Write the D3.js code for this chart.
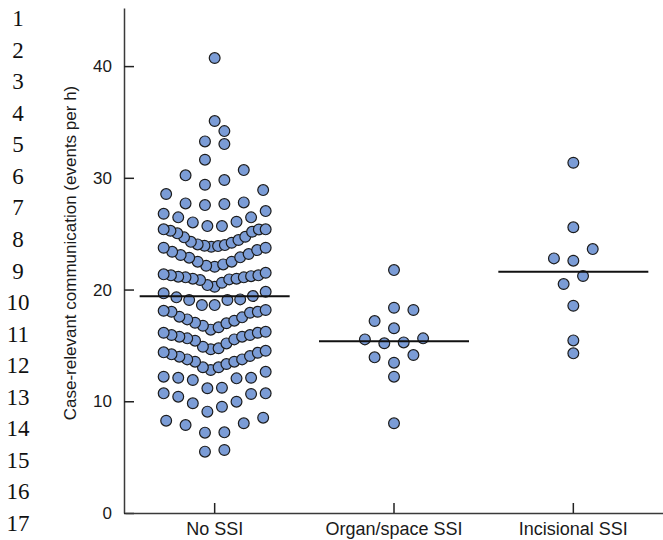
<!DOCTYPE html>
<meta charset="utf-8">
<style>
  body { margin: 0; background: #fff; }
</style>
<body>
<script src="https://d3js.org/d3.v7.min.js"></script>
<script>

var categories = ["No SSI", "Organ/space SSI", "Incisional SSI"];

// case-relevant communication, events per hour
var noSSI = [
  40.72, 35.08, 34.18, 33.26, 33.02, 31.62, 30.69, 30.22, 29.80, 29.38, 28.90, 28.55,
  27.80, 27.71, 27.65, 27.56,
  27.02, 26.78, 26.46, 26.46, 26.07, 26.01, 25.68, 25.68, 25.39, 25.39,
  25.38, 25.26, 25.17, 25.03, 24.72, 24.67, 24.43, 24.27, 24.19, 24.04, 23.98, 23.92, 23.89, 23.83,
  23.74, 23.74, 23.53, 23.38, 23.18, 23.09, 22.88, 22.85, 22.49, 22.49, 22.25, 22.13, 22.04,
  21.50, 21.36, 21.27, 21.27, 21.20, 21.15, 21.09, 21.09, 20.97, 20.97, 20.91, 20.85, 20.61, 20.40, 20.25,
  19.80, 19.66, 19.42, 19.30, 19.12, 19.06, 19.06, 18.61, 18.61, 18.17, 18.10,
  18.01, 18.01, 17.92, 17.57, 17.51, 17.33, 17.21, 17.03, 16.98, 16.76, 16.62, 16.41,
  16.22, 16.13, 16.13, 15.93, 15.93, 15.78, 15.78, 15.63, 15.54, 15.42, 15.18, 14.88,
  14.74, 14.65, 14.52, 14.38, 14.34, 14.20, 14.05, 13.99, 13.75, 13.75, 13.54, 13.54, 13.33, 13.04, 13.04,
  12.80, 12.64, 12.20, 12.10, 12.10, 12.05, 11.90, 11.21, 11.16,
  10.71, 10.71, 10.65, 10.41, 9.96, 9.82, 9.51, 9.07,
  8.53, 8.26, 8.03, 7.87, 7.22, 7.19,
  5.64, 5.49
];
var organSpaceSSI = [21.74, 18.37, 18.17, 17.18, 16.53, 15.63, 15.54, 15.27, 15.19, 14.14, 13.93, 13.45, 12.20, 8.03];
var incisionalSSI = [31.35, 25.57, 23.62, 22.79, 22.58, 21.21, 20.49, 18.55, 15.45, 14.29];

var groups = [noSSI, organSpaceSSI, incisionalSSI];
var yTicks = [0, 10, 20, 30, 40];
var lineNumbers = [1, 2, 3, 4, 5, 6, 7, 8, 9, 10, 11, 12, 13, 14, 15, 16, 17];

var margin = { top: 8, right: 0, bottom: 27, left: 124 };
var width = 663 - margin.left - margin.right,
    height = 540 - margin.top - margin.bottom;

var sans = "'Liberation Sans', Arial, Helvetica, sans-serif";

var svg = d3.select("body").append("svg")
    .attr("width", 663)
    .attr("height", 540);

var g = svg.append("g")
    .attr("transform", "translate(" + margin.left + "," + margin.top + ")");

var x = d3.scaleBand().domain(categories).range([1, width]);
var y = d3.scaleLinear().domain([0, 45.2]).range([height, 0]);

// scatter layout: values binned into rows, lowest value in the middle of a row
var binStart = 9.0, binWidth = 1.85, slotMax = 19.4, rowMax = 102;

var swarm = function (values, cx) {
    var out = [];
    d3.groups(values, function (v) { return Math.floor((v - binStart) / binWidth); })
      .forEach(function (row) {
        var vals = row[1].slice().sort(d3.ascending);
        var n = vals.length;
        var step = n > 1 ? Math.min(slotMax, rowMax / (n - 1)) : 0;
        vals.forEach(function (v, i) {
            var k;
            if (n % 2) k = i === 0 ? 0 : Math.ceil(i / 2) * (i % 2 ? -1 : 1);
            else k = (Math.floor(i / 2) + 0.5) * (i % 2 ? 1 : -1);
            out.push({ value: v, x: cx + k * step });
        });
    });
    return out;
};

// axes
var yAxis = g.append("g")
    .call(d3.axisLeft(y).tickValues(yTicks).tickSize(-10).tickSizeOuter(0).tickPadding(12));

var xAxis = g.append("g")
    .attr("transform", "translate(0," + height + ")")
    .call(d3.axisBottom(x).tickSize(-10).tickSizeOuter(0).tickPadding(9));

[yAxis, xAxis].forEach(function (a) {
    a.attr("font-size", 17).attr("font-family", sans);
    a.select(".domain").attr("stroke", "#3a3a3a").attr("stroke-width", 1.5);
    a.selectAll(".tick line").attr("stroke", "#222").attr("stroke-width", 1.5);
    a.selectAll(".tick text").attr("fill", "#1a1a1a");
});
xAxis.attr("font-size", 18);

g.append("text")
    .attr("transform", "rotate(-90)")
    .attr("x", -(253 - margin.top))
    .attr("y", 70 - margin.left)
    .attr("dy", "0.35em")
    .attr("text-anchor", "middle")
    .attr("font-family", sans)
    .attr("font-size", 17)
    .attr("fill", "#1a1a1a")
    .text("Case-relevant communication (events per h)");

// dots
groups.forEach(function (vals, gi) {
    var cx = x(categories[gi]) + x.bandwidth() / 2;
    g.append("g").selectAll("circle")
        .data(swarm(vals, cx))
      .enter().append("circle")
        .attr("cx", function (d) { return d.x; })
        .attr("cy", function (d) { return y(d.value); })
        .attr("r", 5.4)
        .attr("fill", "#7b9cd6")
        .attr("stroke", "#1c1c1c")
        .attr("stroke-width", 1.2);
});

// group mean lines
g.append("g").selectAll("line")
    .data(groups)
  .enter().append("line")
    .attr("x1", function (d, i) { return x(categories[i]) + x.bandwidth() / 2 - 75; })
    .attr("x2", function (d, i) { return x(categories[i]) + x.bandwidth() / 2 + 75; })
    .attr("y1", function (d) { return y(d3.mean(d)); })
    .attr("y2", function (d) { return y(d3.mean(d)); })
    .attr("stroke", "#111")
    .attr("stroke-width", 2);

// manuscript line numbers
var ln = d3.scalePoint().domain(lineNumbers).range([18, 523]);
svg.append("g").selectAll("text")
    .data(lineNumbers)
  .enter().append("text")
    .attr("x", 18)
    .attr("y", function (d) { return ln(d); })
    .attr("dy", "0.35em")
    .attr("text-anchor", "middle")
    .attr("font-family", "'Liberation Serif', 'Times New Roman', serif")
    .attr("font-size", 23)
    .attr("fill", "#111")
    .text(function (d) { return d; });

</script>
</body>
